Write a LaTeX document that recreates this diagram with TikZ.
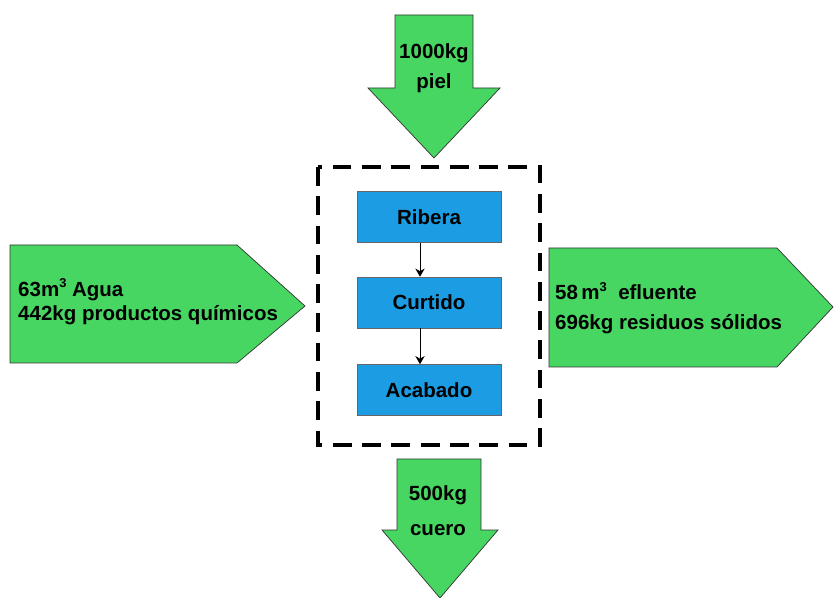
\documentclass[tikz,border=0pt]{standalone}
\usepackage{fontspec}
\setmainfont{Liberation Sans}
\usetikzlibrary{positioning}
\usetikzlibrary{arrows.meta}
\definecolor{flowgreen}{RGB}{72,214,98}
\definecolor{stageblue}{RGB}{28,156,226}
\newcommand{\cubic}{\raisebox{7pt}{\fontsize{11}{11}\selectfont 3}}

\begin{document}
\begin{tikzpicture}[x=0.03cm, y=-0.03cm,
    flow/.style = {draw=black!80, fill=flowgreen, line width=0.6pt},
    stage/.style = {draw=black!60, fill=stageblue, minimum width=4.32cm, minimum height=1.53cm, font=\bfseries\fontsize{17.5}{21}\selectfont},
    flowtext/.style = {inner sep=0pt, font=\bfseries\fontsize{17.5}{21}\selectfont}]
    \useasboundingbox (0,0) rectangle (834,598);
    % green flows
    \draw[flow] (395,15) -- (473,15) -- (473,88) -- (500,88) -- (434,158) -- (368,88) -- (395,88) -- cycle;
    \draw[flow] (397,459) -- (481,459) -- (481,530) -- (498,530) -- (440,598) -- (382,530) -- (397,530) -- cycle;
    \draw[flow] (10,245) -- (237,245) -- (305,306) -- (237,363) -- (10,363) -- cycle;
    \draw[flow] (549,248) -- (777,248) -- (833,307) -- (777,367) -- (549,367) -- cycle;
    \node[flowtext, align=center](piel) at (434,68) {1000kg\\[5pt]piel};
    \node[flowtext, align=center](cuero) at (438,511) {500kg\\[9pt]cuero};
    \node[flowtext, align=left, anchor=west](entrada) at (18,302) {63m\cubic\ Agua\\[0pt]442kg productos químicos};
    \node[flowtext, align=left, anchor=west](salida) at (555,308) {58\,m\cubic~ efluente\\[4pt]696kg residuos sólidos};
    % process
    \draw[line width=3.2pt, dash pattern=on 16pt off 9pt] (318,167) rectangle (540,445);
    \node[stage](ribera) at (429,217) {Ribera};
    \node[stage](curtido)[below=1.02cm of ribera]{Curtido};
    \node[stage](acabado)[below=1.08cm of curtido]{Acabado};
    \draw[-{Stealth[length=7pt,width=8pt]}, line width=0.8pt] ([xshift=-0.27cm]ribera.south) -- ([xshift=-0.27cm]curtido.north);
    \draw[-{Stealth[length=7pt,width=8pt]}, line width=0.8pt] ([xshift=-0.27cm]curtido.south) -- ([xshift=-0.27cm]acabado.north);
\end{tikzpicture}
\end{document}
